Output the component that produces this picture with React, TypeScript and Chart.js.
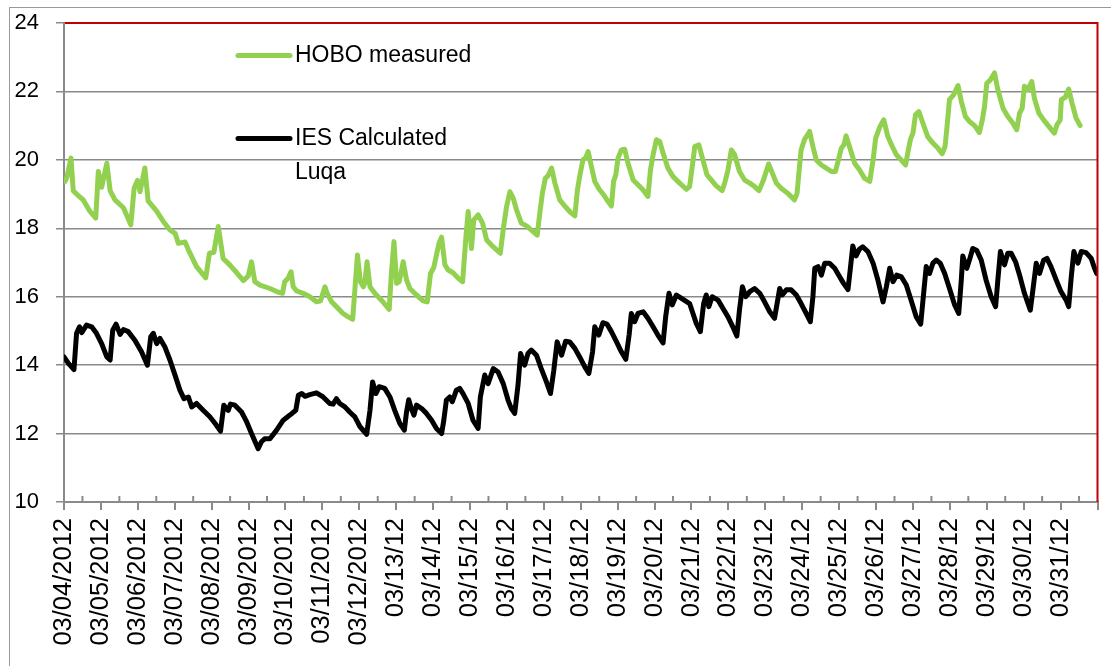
import React, { useEffect, useRef } from 'react';
import { Chart, registerables } from 'chart.js';

Chart.register(...registerables);

const dayLabels = [
  '03/04/2012', '03/05/2012', '03/06/2012', '03/07/2012', '03/08/2012', '03/09/2012',
  '03/10/2012', '03/11/2012', '03/12/2012', '03/13/12', '03/14/12', '03/15/12',
  '03/16/12', '03/17/12', '03/18/12', '03/19/12', '03/20/12', '03/21/12', '03/22/12',
  '03/23/12', '03/24/12', '03/25/12', '03/26/12', '03/27/12', '03/28/12', '03/29/12',
  '03/30/12', '03/31/12',
];

const seriesNames = ['HOBO measured', 'IES Calculated', 'Luqa'];

// time in days since 03/04/2012 00:00
const hoboDays = [
  0.03, 0.08, 0.19, 0.25, 0.34, 0.52, 0.70, 0.86, 0.93, 1.02, 1.16, 1.25, 1.38, 1.61, 1.81, 1.90,
  1.99, 2.06, 2.19, 2.28, 2.51, 2.69, 2.87, 3.01, 3.10, 3.28, 3.37, 3.59, 3.84, 3.94, 4.06, 4.18,
  4.31, 4.49, 4.68, 4.86, 4.99, 5.08, 5.17, 5.31, 5.58, 5.76, 5.92, 5.98, 6.07, 6.15, 6.21, 6.30,
  6.48, 6.66, 6.84, 6.95, 7.07, 7.13, 7.25, 7.38, 7.56, 7.70, 7.82, 7.88, 7.95, 8.03, 8.11, 8.15,
  8.21, 8.29, 8.42, 8.60, 8.81, 8.87, 8.94, 9.01, 9.08, 9.19, 9.28, 9.37, 9.55, 9.73, 9.84, 9.93,
  10.02, 10.09, 10.16, 10.23, 10.32, 10.41, 10.54, 10.68, 10.80, 10.89, 10.95, 11.04, 11.10, 11.22,
  11.34, 11.45, 11.58, 11.72, 11.82, 11.91, 11.99, 12.08, 12.17, 12.26, 12.39, 12.53, 12.71, 12.82,
  12.89, 12.96, 13.04, 13.11, 13.21, 13.30, 13.43, 13.57, 13.70, 13.84, 13.91, 13.97, 14.06, 14.13,
  14.20, 14.29, 14.38, 14.50, 14.62, 14.74, 14.83, 14.89, 14.95, 15.01, 15.10, 15.19, 15.28, 15.42,
  15.55, 15.69, 15.82, 15.89, 15.96, 16.05, 16.14, 16.23, 16.36, 16.50, 16.68, 16.86, 16.95, 17.02,
  17.09, 17.20, 17.31, 17.42, 17.54, 17.67, 17.83, 17.90, 17.99, 18.08, 18.17, 18.30, 18.44, 18.58,
  18.71, 18.83, 18.95, 19.09, 19.21, 19.30, 19.43, 19.61, 19.79, 19.86, 19.91, 19.97, 20.06, 20.20,
  20.29, 20.38, 20.52, 20.65, 20.79, 20.90, 20.97, 21.06, 21.13, 21.19, 21.28, 21.42, 21.55, 21.69,
  21.83, 21.92, 21.99, 22.10, 22.21, 22.32, 22.44, 22.55, 22.68, 22.80, 22.86, 22.93, 23.00, 23.07,
  23.16, 23.27, 23.40, 23.54, 23.68, 23.79, 23.87, 23.92, 23.99, 24.10, 24.22, 24.31, 24.42, 24.53,
  24.67, 24.80, 24.88, 24.94, 25.00, 25.10, 25.21, 25.30, 25.44, 25.57, 25.71, 25.81, 25.89, 25.96,
  26.02, 26.11, 26.22, 26.29, 26.41, 26.54, 26.68, 26.83, 26.90, 26.99, 27.02, 27.13, 27.22, 27.31,
  27.42, 27.53,
];

const hoboTemps = [
  19.37, 19.5, 20.05, 19.1, 19.0, 18.83, 18.5, 18.3, 19.66, 19.2, 19.9, 19.1, 18.83, 18.6, 18.1, 19.17,
  19.4, 19.07, 19.76, 18.8, 18.5, 18.2, 17.95, 17.85, 17.56, 17.6, 17.37, 16.88, 16.55, 17.27, 17.3, 18.05,
  17.12, 16.93, 16.7, 16.47, 16.6, 17.02, 16.44, 16.34, 16.24, 16.15, 16.1, 16.44, 16.54, 16.73, 16.29, 16.17,
  16.1, 16.0, 15.85, 15.88, 16.29, 16.1, 15.85, 15.71, 15.51, 15.41, 15.34, 16.2, 17.22, 16.44, 16.29, 16.39,
  17.02, 16.29, 16.1, 15.9, 15.63, 16.68, 17.61, 16.39, 16.44, 17.02, 16.49, 16.24, 16.05, 15.88, 15.85, 16.68,
  16.86, 17.22, 17.56, 17.74, 16.93, 16.78, 16.7, 16.54, 16.44, 17.76, 18.49, 17.41, 18.24, 18.39,
  18.15, 17.66, 17.51, 17.37, 17.27, 18.05, 18.63, 19.07, 18.88, 18.54, 18.15, 18.07, 17.9, 17.8,
  18.44, 19.02, 19.46, 19.53, 19.76, 19.32, 18.83, 18.65, 18.49, 18.36, 19.12, 19.51, 20.0, 20.05,
  20.24, 19.8, 19.37, 19.14, 18.98, 18.78, 18.65, 19.37, 19.56, 20.05, 20.29, 20.31, 19.9, 19.41,
  19.27, 19.12, 18.93, 19.71, 20.15, 20.59, 20.54, 20.2, 19.76, 19.51, 19.32, 19.14, 19.22, 19.8,
  20.39, 20.44, 20.0, 19.56, 19.41, 19.24, 19.1, 19.32, 19.71, 20.29, 20.15, 19.66, 19.41, 19.32,
  19.22, 19.1, 19.41, 19.88, 19.56, 19.32, 19.17, 19.02, 18.83, 19.02, 19.61, 20.29, 20.59, 20.83,
  20.39, 20.0, 19.85, 19.76, 19.66, 19.66, 19.95, 20.34, 20.44, 20.7, 20.39, 19.9, 19.71, 19.46,
  19.37, 20.0, 20.63, 20.96, 21.17, 20.68, 20.39, 20.15, 20.0, 19.85, 20.2, 20.59, 20.78, 21.32,
  21.41, 21.07, 20.68, 20.49, 20.34, 20.18, 20.39, 20.93, 21.76, 21.9, 22.17, 21.71, 21.27, 21.12,
  21.0, 20.8, 21.17, 21.56, 22.24, 22.34, 22.54, 22.05, 21.51, 21.27, 21.07, 20.88, 21.37, 21.51,
  22.15, 22.05, 22.29, 21.8, 21.37, 21.17, 20.98, 20.78, 21.02, 21.17, 21.76, 21.83, 22.07, 21.66,
  21.22, 21.0,
];

const iesDays = [
  0.0, 0.12, 0.27, 0.34, 0.42, 0.48, 0.61, 0.75, 0.88, 1.02, 1.16, 1.25, 1.32, 1.41, 1.52, 1.61,
  1.74, 1.92, 2.10, 2.26, 2.35, 2.42, 2.51, 2.60, 2.73, 2.87, 3.01, 3.14, 3.25, 3.37, 3.46, 3.59,
  3.77, 3.95, 4.09, 4.24, 4.33, 4.40, 4.45, 4.51, 4.63, 4.81, 4.95, 5.08, 5.26, 5.35, 5.44, 5.58,
  5.76, 5.94, 6.12, 6.28, 6.35, 6.44, 6.53, 6.66, 6.84, 7.02, 7.20, 7.29, 7.38, 7.47, 7.61, 7.74,
  7.88, 8.02, 8.20, 8.29, 8.36, 8.45, 8.54, 8.69, 8.83, 8.96, 9.10, 9.22, 9.28, 9.34, 9.41, 9.48,
  9.55, 9.69, 9.82, 9.96, 10.09, 10.23, 10.29, 10.36, 10.45, 10.52, 10.63, 10.72, 10.81, 10.95,
  11.08, 11.22, 11.28, 11.40, 11.49, 11.63, 11.76, 11.90, 12.03, 12.12, 12.21, 12.30, 12.37, 12.48,
  12.57, 12.66, 12.80, 12.93, 13.07, 13.18, 13.27, 13.36, 13.48, 13.59, 13.70, 13.84, 13.97, 14.11,
  14.22, 14.32, 14.38, 14.49, 14.60, 14.71, 14.83, 14.97, 15.10, 15.22, 15.31, 15.37, 15.46, 15.55,
  15.69, 15.82, 15.96, 16.09, 16.23, 16.30, 16.39, 16.48, 16.59, 16.73, 16.95, 17.04, 17.13, 17.24,
  17.33, 17.40, 17.47, 17.56, 17.72, 17.85, 17.99, 18.12, 18.23, 18.30, 18.38, 18.47, 18.58, 18.71,
  18.85, 18.98, 19.12, 19.25, 19.32, 19.39, 19.46, 19.57, 19.70, 19.84, 19.97, 20.11, 20.22, 20.29,
  20.34, 20.43, 20.52, 20.61, 20.74, 20.88, 21.01, 21.12, 21.24, 21.30, 21.37, 21.46, 21.55, 21.64,
  21.78, 21.92, 22.05, 22.19, 22.28, 22.37, 22.46, 22.56, 22.68, 22.82, 22.95, 23.09, 23.21, 23.29,
  23.36, 23.45, 23.54, 23.63, 23.74, 23.86, 23.99, 24.13, 24.24, 24.31, 24.35, 24.46, 24.53, 24.62,
  24.73, 24.85, 24.98, 25.12, 25.24, 25.30, 25.37, 25.48, 25.57, 25.66, 25.78, 25.90, 26.02, 26.18,
  26.25, 26.34, 26.43, 26.54, 26.63, 26.74, 26.88, 27.01, 27.15, 27.22, 27.29, 27.36, 27.47, 27.56,
  27.69, 27.83, 27.92, 27.98,
];

const iesTemps = [
  14.24, 14.05, 13.87, 14.93, 15.12, 14.95, 15.17, 15.12, 14.93, 14.63, 14.24, 14.15, 15.02, 15.2, 14.9, 15.04,
  14.98, 14.73, 14.39, 14.0, 14.83, 14.93, 14.63, 14.78, 14.54, 14.15, 13.7, 13.27, 13.02, 13.07, 12.78, 12.88,
  12.68, 12.49, 12.3, 12.07, 12.83, 12.73, 12.68, 12.86, 12.83, 12.63, 12.34, 12.0, 11.56, 11.76, 11.85, 11.85,
  12.1, 12.39, 12.54, 12.68, 13.12, 13.17, 13.09, 13.14, 13.19, 13.07, 12.88, 12.86, 13.02, 12.88, 12.78, 12.63,
  12.49, 12.2, 11.98, 12.68, 13.51, 13.17, 13.37, 13.32, 13.07, 12.68, 12.29, 12.1, 12.63, 12.99, 12.73, 12.54,
  12.83, 12.73, 12.59, 12.39, 12.15, 12.0, 12.39, 12.98, 13.07, 12.93, 13.27, 13.32, 13.17, 12.88,
  12.39, 12.15, 13.07, 13.71, 13.46, 13.9, 13.8, 13.46, 12.98, 12.73, 12.59, 13.41, 14.34, 14.0,
  14.34, 14.44, 14.29, 13.9, 13.51, 13.17, 13.85, 14.68, 14.29, 14.7, 14.68, 14.49, 14.24, 13.95,
  13.76, 14.39, 15.12, 14.88, 15.24, 15.2, 14.98, 14.68, 14.39, 14.17, 14.88, 15.51, 15.27, 15.51,
  15.56, 15.37, 15.12, 14.88, 14.65, 15.41, 16.1, 15.76, 16.05, 15.95, 15.8, 15.51, 15.22, 14.98,
  15.8, 16.05, 15.71, 16.0, 15.9, 15.66, 15.41, 15.12, 14.85, 15.61, 16.29, 16.0, 16.15, 16.24,
  16.1, 15.85, 15.56, 15.37, 15.8, 16.24, 16.05, 16.2, 16.2, 16.05, 15.8, 15.51, 15.27, 16.0,
  16.83, 16.88, 16.63, 16.98, 16.98, 16.83, 16.59, 16.39, 16.21, 16.78, 17.48, 17.19, 17.39, 17.46,
  17.32, 16.98, 16.49, 15.85, 16.29, 16.83, 16.44, 16.63, 16.59, 16.34, 15.9, 15.41, 15.2, 16.1,
  16.88, 16.68, 16.98, 17.07, 16.98, 16.68, 16.24, 15.76, 15.51, 16.49, 17.19, 16.83, 17.07, 17.41,
  17.35, 17.07, 16.49, 16.0, 15.71, 16.49, 17.32, 16.93, 17.27, 17.27, 17.02, 16.59, 16.1, 15.61,
  16.2, 16.98, 16.68, 17.07, 17.12, 16.88, 16.49, 16.15, 15.9, 15.71, 16.59, 17.32, 16.98, 17.32,
  17.29, 17.12, 16.83, 16.68,
];

const GREEN = '#92D050';
const GREY = '#8a8a8a';
const RED = '#C00000';
const FONT = "'Liberation Sans', Arial, sans-serif";

export default function App() {
  const ref = useRef<HTMLCanvasElement>(null);

  useEffect(() => {
    const canvas = ref.current;
    if (!canvas) return;

    const overlay = {
      id: 'overlay',
      afterDraw(chart: any) {
        const { ctx, chartArea } = chart;
        const xs = chart.scales.x;
        ctx.save();
        // minor ticks (half days), pointing up into plot area
        ctx.strokeStyle = GREY;
        ctx.lineWidth = 2;
        for (let d = 0; d < dayLabels.length; d++) {
          const px = xs.getPixelForValue(d + 0.5);
          ctx.beginPath();
          ctx.moveTo(px, chartArea.bottom);
          ctx.lineTo(px, chartArea.bottom - 6);
          ctx.stroke();
        }
        // red plot border (top + right)
        ctx.strokeStyle = RED;
        ctx.lineWidth = 2;
        ctx.beginPath();
        ctx.moveTo(chartArea.left + 1, chartArea.top);
        ctx.lineTo(chartArea.right, chartArea.top);
        ctx.lineTo(chartArea.right, chartArea.bottom);
        ctx.stroke();

        // legend
        ctx.lineCap = 'round';
        ctx.lineWidth = 5;
        ctx.strokeStyle = GREEN;
        ctx.beginPath();
        ctx.moveTo(238, 55.5);
        ctx.lineTo(290, 55.5);
        ctx.stroke();
        ctx.strokeStyle = '#000';
        ctx.beginPath();
        ctx.moveTo(238, 138.5);
        ctx.lineTo(290, 138.5);
        ctx.stroke();
        ctx.fillStyle = '#000';
        ctx.font = `23px ${FONT}`;
        ctx.textBaseline = 'middle';
        ctx.textAlign = 'left';
        ctx.fillText(seriesNames[0], 295, 56);
        ctx.fillText(seriesNames[1], 295, 139);
        ctx.fillText(seriesNames[2], 295, 173);
        ctx.restore();
      },
    };

    const chart = new Chart(canvas, {
      type: 'line',
      data: {
        datasets: [
          {
            label: seriesNames[0],
            data: hoboDays.map((d, i) => ({ x: d, y: hoboTemps[i] })),
            borderColor: GREEN,
            backgroundColor: GREEN,
            borderWidth: 5,
            pointRadius: 0,
            tension: 0,
            borderJoinStyle: 'round',
            borderCapStyle: 'round',
          },
          {
            label: seriesNames[1] + ' ' + seriesNames[2],
            data: iesDays.map((d, i) => ({ x: d, y: iesTemps[i] })),
            borderColor: '#000',
            backgroundColor: '#000',
            borderWidth: 5,
            pointRadius: 0,
            tension: 0,
            borderJoinStyle: 'round',
            borderCapStyle: 'round',
          },
        ],
      },
      options: {
        responsive: false,
        animation: false,
        layout: { padding: { left: 0, top: 23, right: 13.5, bottom: 0 } },
        plugins: { legend: { display: false }, tooltip: { enabled: false } },
        scales: {
          x: {
            type: 'linear',
            min: 0,
            max: 28,
            afterFit: (s: any) => {
              s.height = 164;
              s.paddingLeft = 0;
              s.paddingRight = 0;
            },
            ticks: {
              stepSize: 1,
              maxTicksLimit: 100,
              autoSkip: false,
              maxRotation: 90,
              minRotation: 90,
              padding: 8,
              color: '#000',
              font: { family: FONT, size: 25.5 },
              callback: (v: any) => dayLabels[v] ?? '',
            },
            grid: { drawOnChartArea: false, drawTicks: true, tickLength: 8, color: GREY, lineWidth: 2 },
            border: { color: GREY, width: 2 },
          },
          y: {
            min: 10,
            max: 24,
            afterFit: (s: any) => {
              s.width = 64;
              s.paddingTop = 0;
              s.paddingBottom = 0;
            },
            ticks: {
              stepSize: 2,
              padding: 17,
              color: '#000',
              font: { family: FONT, size: 22 },
            },
            grid: { color: GREY, lineWidth: 1.5, tickLength: 8 },
            border: { color: GREY, width: 2 },
          },
        },
      },
      plugins: [overlay],
    });
    return () => chart.destroy();
  }, []);

  return (
    <div style={{ position: 'fixed', left: 0, top: 0, width: 1111, height: 666, background: '#fff' }}>
      <div
        style={{
          position: 'absolute',
          left: 9,
          top: 7,
          width: 1300,
          height: 900,
          borderLeft: '1.5px solid #9a9a9a',
          borderTop: '1.5px solid #9a9a9a',
          boxSizing: 'border-box',
        }}
      />
      <canvas ref={ref} width={1111} height={666} style={{ position: 'absolute', left: 0, top: 0, width: 1111, height: 666 }} />
    </div>
  );
}
